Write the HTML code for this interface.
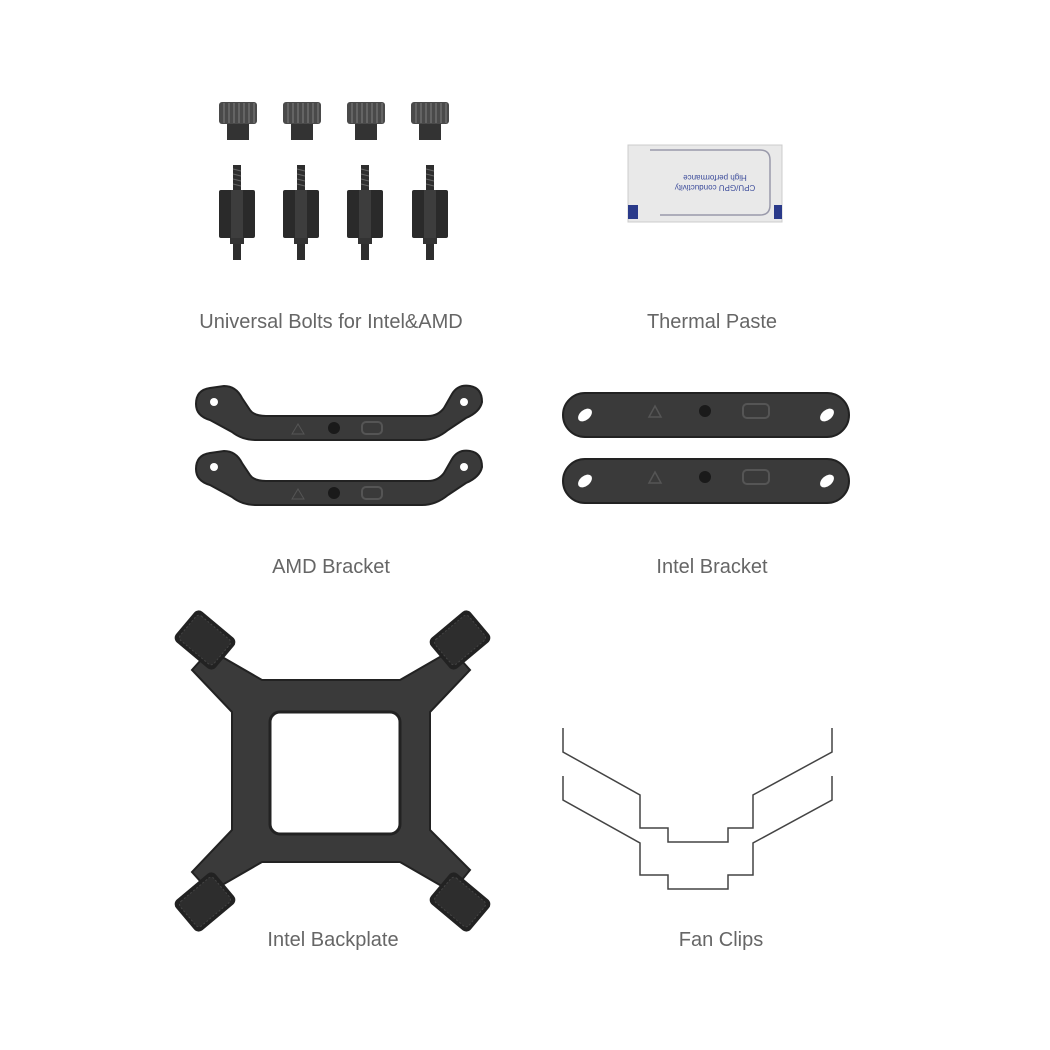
<!DOCTYPE html>
<html><head><meta charset="utf-8"><style>
html,body{margin:0;padding:0;background:#fff;}
body{width:1050px;height:1050px;overflow:hidden;}
svg{display:block}
text{font-family:"Liberation Sans",sans-serif;fill:#666;font-size:20px;}
</style></head><body>
<svg width="1050" height="1050" viewBox="0 0 1050 1050" xmlns="http://www.w3.org/2000/svg">
<defs>
<g id="thumb">
<rect x="-19" y="0" width="38" height="22" rx="3" fill="#4a4a4a"/>
<g stroke="#777" stroke-width="1.2">
<line x1="-14" y1="1" x2="-14" y2="21"/><line x1="-9" y1="1" x2="-9" y2="21"/><line x1="-4" y1="1" x2="-4" y2="21"/><line x1="1" y1="1" x2="1" y2="21"/><line x1="6" y1="1" x2="6" y2="21"/><line x1="11" y1="1" x2="11" y2="21"/><line x1="16" y1="1" x2="16" y2="21"/></g>
<rect x="-11" y="22" width="22" height="16" fill="#333"/>
</g>
<g id="stand">
<rect x="-4" y="0" width="8" height="25" fill="#2e2e2e"/>
<g stroke="#666" stroke-width="1"><line x1="-4" y1="4" x2="4" y2="6"/><line x1="-4" y1="9" x2="4" y2="11"/><line x1="-4" y1="14" x2="4" y2="16"/><line x1="-4" y1="19" x2="4" y2="21"/></g>
<rect x="-18" y="25" width="36" height="48" rx="2" fill="#2a2a2a"/>
<rect x="-6" y="25" width="12" height="48" fill="#3d3d3d"/>
<rect x="-7" y="73" width="14" height="6" fill="#333"/>
<rect x="-4" y="79" width="8" height="16" fill="#2e2e2e"/>
</g>
<g id="amd">
<path d="M0,22 Q0,8 14,6 L28,4 Q40,4 46,16 L54,28 Q58,34 70,34 L232,34 Q242,34 248,26 L256,12 Q262,2 274,4 Q286,6 286,20 Q284,30 270,36 L252,48 Q240,58 226,58 L60,58 Q46,58 36,50 L14,38 Q0,34 0,22 Z" fill="#3a3a3a" stroke="#222" stroke-width="2"/>
<circle cx="18" cy="20" r="4" fill="#fff"/><circle cx="268" cy="20" r="4" fill="#fff"/>
<circle cx="138" cy="46" r="6" fill="#1a1a1a"/>
<path d="M96,52 L102,42 L108,52 Z" fill="none" stroke="#555"/>
<rect x="166" y="40" width="20" height="12" rx="4" fill="none" stroke="#555" stroke-width="2"/>
</g>
<g id="intel">
<rect x="0" y="0" width="286" height="44" rx="22" fill="#3a3a3a" stroke="#222" stroke-width="2"/>
<ellipse cx="22" cy="22" rx="8" ry="5" transform="rotate(-40 22 22)" fill="#fff"/>
<ellipse cx="264" cy="22" rx="8" ry="5" transform="rotate(-40 264 22)" fill="#fff"/>
<circle cx="142" cy="18" r="6" fill="#1a1a1a"/>
<path d="M86,24 L92,13 L98,24 Z" fill="none" stroke="#555" stroke-width="1.5"/>
<rect x="180" y="11" width="26" height="14" rx="4" fill="none" stroke="#555" stroke-width="2"/>
</g>
<g id="foot">
<rect x="-26" y="-20" width="52" height="40" rx="6" fill="#222"/>
<rect x="-22" y="-16" width="44" height="32" rx="4" fill="#2d2d2d" stroke="#444" stroke-dasharray="2 2"/>
</g>
</defs>

<use href="#thumb" x="238" y="102"/><use href="#thumb" x="302" y="102"/><use href="#thumb" x="366" y="102"/><use href="#thumb" x="430" y="102"/>
<use href="#stand" x="237" y="165"/><use href="#stand" x="301" y="165"/><use href="#stand" x="365" y="165"/><use href="#stand" x="430" y="165"/>
<text x="331" y="328" text-anchor="middle">Universal Bolts for Intel&amp;AMD</text>

<rect x="628" y="145" width="154" height="77" fill="#e9e9e9" stroke="#ccc"/>
<path d="M650,150 L760,150 Q770,150 770,160 L770,205 Q770,215 760,215 L660,215" fill="none" stroke="#99a" stroke-width="1.5"/>
<rect x="628" y="205" width="10" height="14" fill="#2a3a8a"/><rect x="774" y="205" width="8" height="14" fill="#2a3a8a"/>
<text x="725" y="175" text-anchor="middle" style="font-size:8px;fill:#3a4a9a" transform="rotate(180 720 175)">High performance</text>
<text x="725" y="185" text-anchor="middle" style="font-size:8px;fill:#3a4a9a" transform="rotate(180 720 185)">CPU/GPU conductivity</text>
<text x="712" y="328" text-anchor="middle">Thermal Paste</text>

<use href="#amd" x="196" y="382"/><use href="#amd" x="196" y="447"/>
<text x="331" y="573" text-anchor="middle">AMD Bracket</text>

<use href="#intel" x="563" y="393"/><use href="#intel" x="563" y="459"/>
<text x="712" y="573" text-anchor="middle">Intel Bracket</text>

<path d="M210,650 L262,680 L400,680 L452,650 L470,670 L430,712 L430,830 L470,870 L452,892 L400,862 L262,862 L210,892 L192,872 L232,830 L232,712 L192,670 Z" fill="#3a3a3a" stroke="#222" stroke-width="2"/>
<rect x="270" y="712" width="130" height="122" rx="10" fill="#fff" stroke="#222" stroke-width="3"/>
<use href="#foot" transform="translate(205 640) rotate(40)"/>
<use href="#foot" transform="translate(460 640) rotate(-40)"/>
<use href="#foot" transform="translate(205 902) rotate(-40)"/>
<use href="#foot" transform="translate(460 902) rotate(40)"/>
<text x="333" y="946" text-anchor="middle">Intel Backplate</text>

<g fill="none" stroke="#444" stroke-width="1.5">
<polyline points="563,728 563,752 640,795 640,828 668,828 668,842 728,842 728,828 753,828 753,795 832,752 832,728"/>
<polyline points="563,776 563,800 640,843 640,875 668,875 668,889 728,889 728,875 753,875 753,843 832,800 832,776"/>
</g>
<text x="721" y="946" text-anchor="middle">Fan Clips</text>
</svg>
</body></html>
